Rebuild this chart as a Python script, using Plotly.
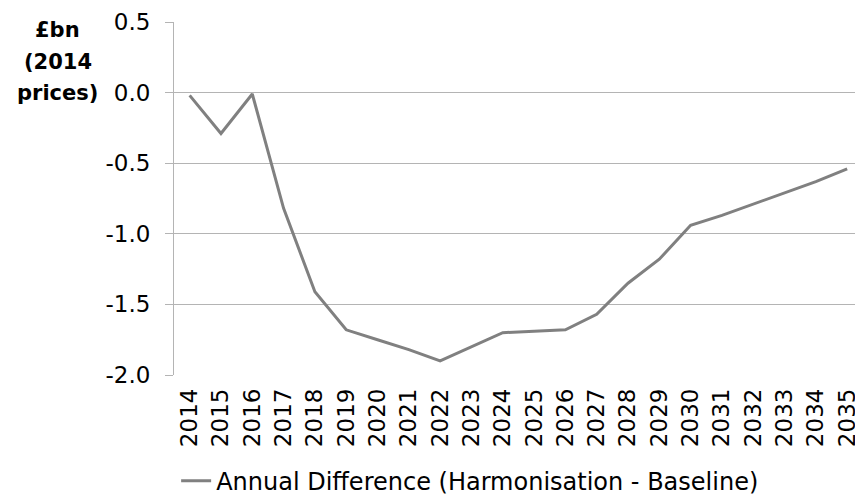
import plotly.graph_objects as go

# Annual difference in £bn (2014 prices), harmonisation scenario minus baseline
years = list(range(2014, 2036))
annual_difference = [
    -0.02, -0.29, -0.01, -0.82, -1.41, -1.68, -1.75, -1.82, -1.90, -1.80, -1.70,
    -1.69, -1.68, -1.57, -1.35, -1.18, -0.94, -0.87, -0.79, -0.71, -0.63, -0.54,
]
year_labels = [str(y) for y in years]
y_ticks = [0.5, 0.0, -0.5, -1.0, -1.5, -2.0]
y_tick_labels = ["0.5", "0.0", "-0.5", "-1.0", "-1.5", "-2.0"]
series_name = "Annual Difference (Harmonisation - Baseline)"
unit_lines = ["£bn", "(2014", "prices)"]

FONT = "DejaVu Sans, Arial, sans-serif"
GRID = "#b4b4b4"
x_range = [years[0] - 0.5, years[-1] + 0.25]

fig = go.Figure()
fig.add_trace(go.Scatter(
    x=years, y=annual_difference, mode="lines", name=series_name,
    line=dict(color="#808080", width=3),
))

fig.update_layout(
    width=855, height=498,
    margin=dict(l=174, r=0, t=22, b=123, autoexpand=False),
    paper_bgcolor="white", plot_bgcolor="white",
    font=dict(family=FONT, size=23, color="black"),
    showlegend=True,
    legend=dict(
        orientation="h", xref="container", x=0.206, xanchor="left",
        yref="container", y=0.034, yanchor="middle",
        font=dict(size=24), itemwidth=30, tracegroupgap=0,
    ),
    xaxis=dict(
        range=x_range, tickvals=years, ticktext=year_labels, tickangle=-90,
        showgrid=False, zeroline=False, showline=False, ticks="",
        tickfont=dict(size=23), ticklabeloverflow="allow",
        ticklabelstandoff=8,
    ),
    # category boundary tick marks along the zero line
    xaxis2=dict(
        overlaying="x", anchor="free", position=0.8, range=x_range,
        tickvals=[y - 0.5 for y in years], showticklabels=False,
        ticks="outside", ticklen=6, tickcolor=GRID, showline=False,
        showgrid=False, zeroline=False,
    ),
    yaxis=dict(
        range=[-2.0, 0.5], tickvals=y_ticks, ticktext=y_tick_labels,
        showgrid=True, gridcolor=GRID, gridwidth=1, zeroline=False,
        showline=True, linecolor=GRID, linewidth=1,
        ticks="outside", ticklen=8, tickcolor=GRID,
        tickfont=dict(size=23), ticklabelstandoff=10,
    ),
)

# Unit label, one annotation per line, stacked top-left of the value axis
for line_text, y_px in zip(unit_lines, [30, 62, 93]):
    fig.add_annotation(
        text=f"<b>{line_text}</b>", xref="paper", yref="paper",
        x=(57.5 - 174) / 681, y=(375 - y_px) / 353,
        xanchor="center", yanchor="middle", showarrow=False,
        font=dict(size=21, family=FONT),
    )

fig.write_html("out.html")
